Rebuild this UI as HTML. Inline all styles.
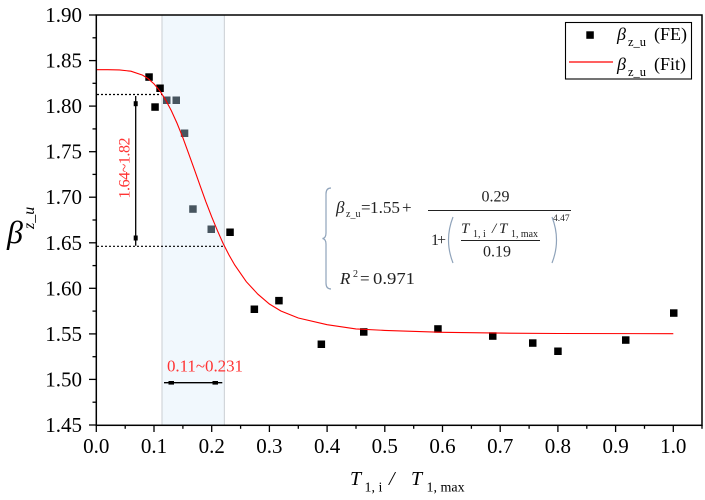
<!DOCTYPE html>
<html><head><meta charset="utf-8"><style>
html,body{margin:0;padding:0;background:#fff;}
svg{display:block;}
text{font-family:"Liberation Serif","DejaVu Serif",serif;}
</style></head><body>
<svg width="705" height="500" viewBox="0 0 705 500" xmlns="http://www.w3.org/2000/svg">
<rect width="705" height="500" fill="#fff"/>
<!-- shaded band -->
<rect x="162" y="15" width="62.4" height="410" fill="#f1f8fd"/>
<line x1="162" y1="15" x2="162" y2="425" stroke="#d2d6da" stroke-width="1.2"/>
<line x1="224.4" y1="15" x2="224.4" y2="425" stroke="#d2d6da" stroke-width="1.2"/>
<!-- dotted guide lines -->
<line x1="97" y1="94.5" x2="162" y2="94.5" stroke="#000" stroke-width="1.2" stroke-dasharray="2,2"/>
<line x1="97" y1="246.3" x2="225" y2="246.3" stroke="#000" stroke-width="1.2" stroke-dasharray="2,2"/>
<!-- FE points -->
<g fill="#000">
<rect x="145.3" y="73.3" width="7.5" height="7.5"/>
<rect x="156.3" y="84.5" width="7.5" height="7.5"/>
<rect x="151.3" y="103.3" width="7.5" height="7.5"/>
<rect x="226.3" y="228.5" width="7.5" height="7.5"/>
<rect x="250.6" y="305.5" width="7.5" height="7.5"/>
<rect x="275.2" y="296.9" width="7.5" height="7.5"/>
<rect x="317.6" y="340.5" width="7.5" height="7.5"/>
<rect x="360" y="328.2" width="7.5" height="7.5"/>
<rect x="434.2" y="325.2" width="7.5" height="7.5"/>
<rect x="489" y="332.3" width="7.5" height="7.5"/>
<rect x="529" y="339.3" width="7.5" height="7.5"/>
<rect x="554.2" y="347.5" width="7.5" height="7.5"/>
<rect x="622" y="336.3" width="7.5" height="7.5"/>
<rect x="670" y="309.3" width="7.5" height="7.5"/>
</g>
<g fill="#47555f">
<rect x="163" y="96.5" width="7.5" height="7.5"/>
<rect x="172.5" y="96.5" width="7.5" height="7.5"/>
<rect x="180.8" y="129.5" width="7.5" height="7.5"/>
<rect x="189.2" y="205.3" width="7.5" height="7.5"/>
<rect x="207.5" y="225.5" width="7.5" height="7.5"/>
</g>
<!-- Fit curve -->
<polyline fill="none" stroke="#ff0000" stroke-width="1.1" points="96.3,69.7 107.8,69.7 119.4,69.9 130.9,71.2 142.5,75.1 148.2,78.7 154,83.9 159.8,90.8 165.5,99.7 171.3,110.6 177.1,123.4 182.9,137.8 188.6,153.4 194.4,169.6 200.2,185.9 205.9,201.8 211.7,216.8 217.5,230.8 223.2,243.6 229,255 234.8,265.1 246.3,281.7 257.9,294.2 269.4,304 280.9,311 298.3,318 327.1,324.7 355.9,328.9 384.8,330.4 442.5,332.3 500.2,333.1 557.9,333.5 673.3,333.7"/>
<!-- vertical arrow -->
<line x1="135.7" y1="96" x2="135.7" y2="245.7" stroke="#000" stroke-width="1.3"/>
<rect x="133.7" y="101.2" width="4" height="5" fill="#000"/>
<rect x="133.7" y="235.5" width="4" height="5" fill="#000"/>
<text transform="translate(129.5,168) rotate(-90)" font-size="16" fill="#ff3333" text-anchor="middle" textLength="61" lengthAdjust="spacing">1.64~1.82</text>
<!-- horizontal arrow -->
<line x1="164" y1="382.7" x2="222.3" y2="382.7" stroke="#000" stroke-width="1.3"/>
<rect x="168.5" y="381" width="5.5" height="3.6" fill="#000"/>
<rect x="212.5" y="381" width="5.5" height="3.6" fill="#000"/>
<text x="167" y="371.5" font-size="17" fill="#ff3333" textLength="76" lengthAdjust="spacing">0.11~0.231</text>
<!-- frame -->
<rect x="96.3" y="15" width="605.7" height="410.3" fill="none" stroke="#000" stroke-width="1.5"/>
<!-- y ticks -->
<g stroke="#000" stroke-width="1.3">
<line x1="89" y1="15" x2="96" y2="15"/>
<line x1="89" y1="60.6" x2="96" y2="60.6"/>
<line x1="89" y1="106.1" x2="96" y2="106.1"/>
<line x1="89" y1="151.7" x2="96" y2="151.7"/>
<line x1="89" y1="197.2" x2="96" y2="197.2"/>
<line x1="89" y1="242.8" x2="96" y2="242.8"/>
<line x1="89" y1="288.3" x2="96" y2="288.3"/>
<line x1="89" y1="333.9" x2="96" y2="333.9"/>
<line x1="89" y1="379.4" x2="96" y2="379.4"/>
<line x1="89" y1="425" x2="96" y2="425"/>
<line x1="92.5" y1="37.8" x2="96" y2="37.8"/>
<line x1="92.5" y1="83.3" x2="96" y2="83.3"/>
<line x1="92.5" y1="128.9" x2="96" y2="128.9"/>
<line x1="92.5" y1="174.4" x2="96" y2="174.4"/>
<line x1="92.5" y1="220" x2="96" y2="220"/>
<line x1="92.5" y1="265.6" x2="96" y2="265.6"/>
<line x1="92.5" y1="311.1" x2="96" y2="311.1"/>
<line x1="92.5" y1="356.7" x2="96" y2="356.7"/>
<line x1="92.5" y1="402.2" x2="96" y2="402.2"/>
</g>
<!-- x ticks -->
<g stroke="#000" stroke-width="1.3">
<line x1="96.3" y1="425" x2="96.3" y2="432"/>
<line x1="154" y1="425" x2="154" y2="432"/>
<line x1="211.7" y1="425" x2="211.7" y2="432"/>
<line x1="269.4" y1="425" x2="269.4" y2="432"/>
<line x1="327.1" y1="425" x2="327.1" y2="432"/>
<line x1="384.8" y1="425" x2="384.8" y2="432"/>
<line x1="442.5" y1="425" x2="442.5" y2="432"/>
<line x1="500.2" y1="425" x2="500.2" y2="432"/>
<line x1="557.9" y1="425" x2="557.9" y2="432"/>
<line x1="615.6" y1="425" x2="615.6" y2="432"/>
<line x1="673.3" y1="425" x2="673.3" y2="432"/>
<line x1="125.2" y1="425" x2="125.2" y2="428.8"/>
<line x1="182.9" y1="425" x2="182.9" y2="428.8"/>
<line x1="240.6" y1="425" x2="240.6" y2="428.8"/>
<line x1="298.3" y1="425" x2="298.3" y2="428.8"/>
<line x1="356" y1="425" x2="356" y2="428.8"/>
<line x1="413.7" y1="425" x2="413.7" y2="428.8"/>
<line x1="471.4" y1="425" x2="471.4" y2="428.8"/>
<line x1="529.1" y1="425" x2="529.1" y2="428.8"/>
<line x1="586.8" y1="425" x2="586.8" y2="428.8"/>
<line x1="644.5" y1="425" x2="644.5" y2="428.8"/>
<line x1="702" y1="425" x2="702" y2="428.8"/>
</g>
<!-- y tick labels -->
<g font-size="21" text-anchor="end" fill="#000">
<text x="82" y="22">1.90</text>
<text x="82" y="67.6">1.85</text>
<text x="82" y="113.1">1.80</text>
<text x="82" y="158.7">1.75</text>
<text x="82" y="204.2">1.70</text>
<text x="82" y="249.8">1.65</text>
<text x="82" y="295.3">1.60</text>
<text x="82" y="340.9">1.55</text>
<text x="82" y="386.4">1.50</text>
<text x="82" y="432">1.45</text>
</g>
<!-- x tick labels -->
<g font-size="21" text-anchor="middle" fill="#000">
<text x="96.3" y="453">0.0</text>
<text x="154" y="453">0.1</text>
<text x="211.7" y="453">0.2</text>
<text x="269.4" y="453">0.3</text>
<text x="327.1" y="453">0.4</text>
<text x="384.8" y="453">0.5</text>
<text x="442.5" y="453">0.6</text>
<text x="500.2" y="453">0.7</text>
<text x="557.9" y="453">0.8</text>
<text x="615.6" y="453">0.9</text>
<text x="673.3" y="453">1.0</text>
</g>
<!-- y axis title -->
<text x="7" y="243" font-size="32" font-style="italic">β</text>
<text transform="translate(34,229) rotate(-90)" font-size="16" font-style="italic">z_u</text>
<!-- x axis title -->
<text x="350" y="485" font-size="20" font-style="italic">T</text>
<text x="364.5" y="491.7" font-size="14">1, i</text>
<text x="389" y="485" font-size="20" font-style="italic">/</text>
<text x="411" y="485" font-size="20" font-style="italic">T</text>
<text x="426.5" y="491.7" font-size="14">1, max</text>
<!-- legend -->
<rect x="565.5" y="22.5" width="126" height="56.5" fill="#fff" stroke="#000" stroke-width="1.1"/>
<rect x="586.3" y="31.3" width="7.5" height="7.5" fill="#000"/>
<line x1="569" y1="62" x2="613" y2="62" stroke="#ff0000" stroke-width="1.2"/>
<text x="617" y="40" font-size="18" font-style="italic">β</text>
<text x="628" y="46" font-size="12.5">z_u</text>
<text x="654" y="40" font-size="18">(FE)</text>
<text x="617" y="70" font-size="18" font-style="italic">β</text>
<text x="628" y="76" font-size="12.5">z_u</text>
<text x="654" y="70" font-size="18">(Fit)</text>
<!-- formula -->
<path d="M331,188 Q326,188 326,194 L326,233 Q326,238 322.5,238.5 Q326,239 326,244 L326,283 Q326,289 331,289" fill="none" stroke="#8fa3ba" stroke-width="1.2"/>
<g fill="#222">
<text x="336" y="213" font-size="17" font-style="italic">β</text>
<text x="346" y="217" font-size="10">z_u</text>
<text x="361" y="213" font-size="17">=</text>
<text x="370" y="213" font-size="17" textLength="30" lengthAdjust="spacingAndGlyphs">1.55</text>
<text x="402" y="213" font-size="17">+</text>
<text x="495.5" y="201.7" font-size="16" text-anchor="middle">0.29</text>
<text x="431" y="245" font-size="16">1</text>
<text x="437" y="245" font-size="16">+</text>
<text x="461" y="233" font-size="15" font-style="italic">T</text>
<text x="473" y="237" font-size="10">1, i</text>
<text x="492" y="233" font-size="15" font-style="italic">/</text>
<text x="499" y="233" font-size="15" font-style="italic">T</text>
<text x="511" y="237" font-size="10" textLength="27" lengthAdjust="spacingAndGlyphs">1, max</text>
<text x="497" y="256.7" font-size="16" text-anchor="middle">0.19</text>
<text x="553" y="221" font-size="9.5">4.47</text>
<text x="340" y="284" font-size="17" font-style="italic">R</text>
<text x="353" y="277" font-size="10">2</text>
<text x="360" y="284" font-size="17">=</text>
<text x="373" y="284" font-size="17" textLength="42" lengthAdjust="spacingAndGlyphs">0.971</text>
</g>
<line x1="428" y1="210.5" x2="571" y2="210.5" stroke="#222" stroke-width="1.1"/>
<line x1="461" y1="240.5" x2="540" y2="240.5" stroke="#222" stroke-width="1"/>
<path d="M453,217 Q444,240 453,263" fill="none" stroke="#8fa3ba" stroke-width="1.2"/>
<path d="M552,217 Q561,240 552,263" fill="none" stroke="#8fa3ba" stroke-width="1.2"/>
</svg>
</body></html>
